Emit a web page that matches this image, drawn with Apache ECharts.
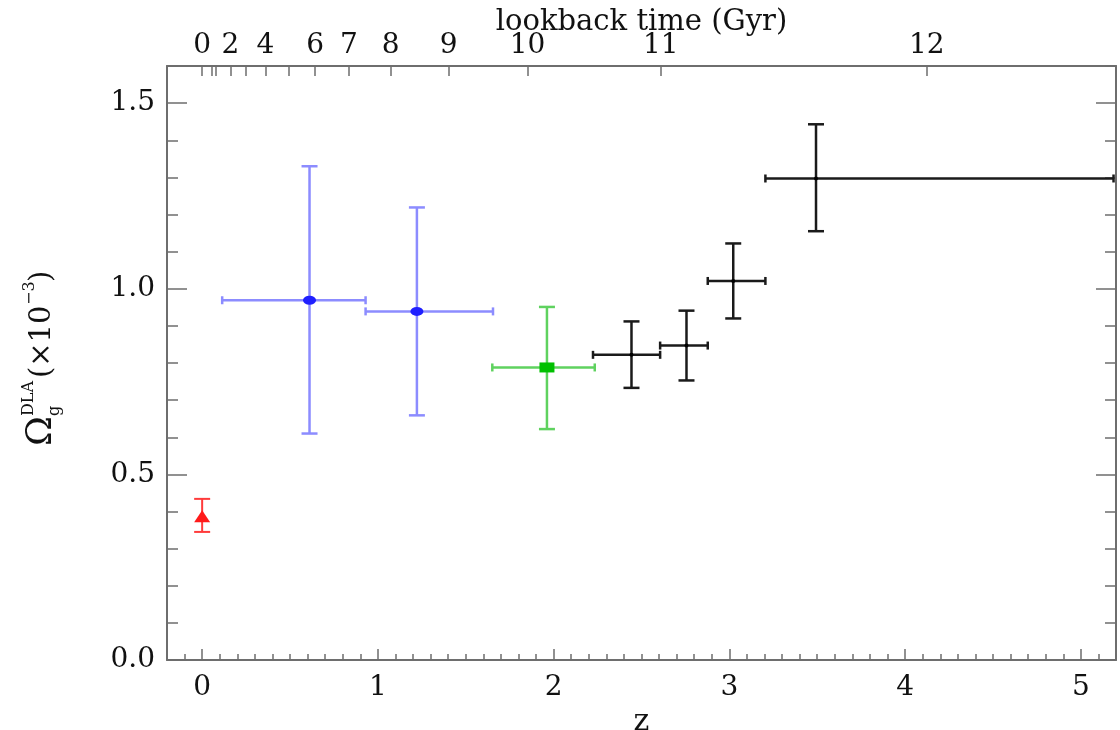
<!DOCTYPE html>
<html>
<head>
<meta charset="utf-8">
<title>Omega_g DLA vs z</title>
<script src="https://cdn.jsdelivr.net/npm/echarts@6/dist/echarts.min.js"></script>
<style>
  html, body { margin: 0; padding: 0; background: #fff; }
  #chart { width: 1120px; height: 730px; }
</style>
</head>
<body>
<div id="chart"></div>
<script>
// values, Omega_g in units of 1e-3
const redZ = [0.0]
const redOmega = [0.387]
const redOmegaLo = [0.345]
const redOmegaHi = [0.434]

const blueZ = [0.611, 1.222]
const blueZLo = [0.114, 0.930]
const blueZHi = [0.930, 1.655]
const blueOmega = [0.969, 0.939]
const blueOmegaLo = [0.610, 0.659]
const blueOmegaHi = [1.330, 1.219]

const greenZ = [1.962]
const greenZLo = [1.651]
const greenZHi = [2.234]
const greenOmega = [0.788]
const greenOmegaLo = [0.622]
const greenOmegaHi = [0.951]

const blackZ = [2.443, 2.756, 3.022, 3.493]
const blackZLo = [2.224, 2.606, 2.877, 3.205]
const blackZHi = [2.606, 2.877, 3.205, 5.186]
const blackOmega = [0.822, 0.847, 1.021, 1.297]
const blackOmegaLo = [0.733, 0.753, 0.920, 1.155]
const blackOmegaHi = [0.912, 0.941, 1.122, 1.443]

// axis ticks
const zTicks = [0, 1, 2, 3, 4, 5]
const omegaTicks = [0, 0.5, 1.0, 1.5]
// top axis: redshift of each lookback time tick
const lookbackTickZ = [0, 0.055, 0.076, 0.161, 0.25, 0.36, 0.493, 0.643, 0.835, 1.072, 1.403, 1.851, 2.61, 4.123]
const lookbackLabelZ = [0, 0.161, 0.36, 0.643, 0.835, 1.072, 1.403, 1.851, 2.61, 4.123]
const lookbackLabels = ['0', '2', '4', '6', '7', '8', '9', '10', '11', '12']

const FONT = 'DejaVu Serif'
const AXIS_COLOR = '#6e6e6e'
const TEXT_COLOR = '#111'

function rows (z, y, zLo, zHi, yLo, yHi) {
  return z.map((v, i) => [v, y[i], zLo ? zLo[i] : v, zHi ? zHi[i] : v, yLo[i], yHi[i]])
}

function errorBars (color, width) {
  return function (params, api) {
    const z = api.value(0)
    const y = api.value(1)
    const top = api.coord([z, api.value(5)])
    const bot = api.coord([z, api.value(4)])
    const left = api.coord([api.value(2), y])
    const right = api.coord([api.value(3), y])
    const style = { stroke: color, lineWidth: width, fill: 'none' }
    const line = (x1, y1, x2, y2) => ({ type: 'line', shape: { x1, y1, x2, y2 }, style })
    const kids = [
      line(top[0], top[1], bot[0], bot[1]),
      line(top[0] - 8, top[1], top[0] + 8, top[1]),
      line(bot[0] - 8, bot[1], bot[0] + 8, bot[1])
    ]
    if (right[0] - left[0] > 1) {
      kids.push(line(left[0], left[1], right[0], right[1]))
      kids.push(line(left[0], left[1] - 4, left[0], left[1] + 4))
      kids.push(line(right[0], right[1] - 4, right[0], right[1] + 4))
    }
    return { type: 'group', children: kids }
  }
}

const redRows = rows(redZ, redOmega, null, null, redOmegaLo, redOmegaHi)
const blueRows = rows(blueZ, blueOmega, blueZLo, blueZHi, blueOmegaLo, blueOmegaHi)
const greenRows = rows(greenZ, greenOmega, greenZLo, greenZHi, greenOmegaLo, greenOmegaHi)
const blackRows = rows(blackZ, blackOmega, blackZLo, blackZHi, blackOmegaLo, blackOmegaHi)

const labelStyle = { fontFamily: FONT, fontSize: 28, color: TEXT_COLOR }
const lineStyle = { color: AXIS_COLOR, width: 2 }
const tickStyle = { color: AXIS_COLOR, width: 1.5 }

function customSeries (data, color, width) {
  return { type: 'custom', renderItem: errorBars(color, width), data, z: 2, silent: true }
}
function markSeries (data, symbol, size, color) {
  return {
    type: 'scatter',
    data: data.map(r => [r[0], r[1]]),
    symbol,
    symbolSize: size,
    itemStyle: { color, opacity: 1 },
    z: 3,
    silent: true
  }
}

const ySup = { fontFamily: FONT, fontSize: 16 }

const option = {
  animation: false,
  backgroundColor: '#fff',
  grid: { left: 167, right: 4, top: 66, bottom: 70, outerBoundsMode: 'none' },
  xAxis: [
    {
      type: 'value', position: 'bottom', min: -0.2, max: 5.2,
      name: 'z', nameLocation: 'middle', nameGap: 46,
      nameTextStyle: { fontFamily: FONT, fontSize: 30, color: TEXT_COLOR },
      axisLine: { onZero: false, lineStyle },
      axisTick: { inside: true, length: 11, customValues: zTicks, lineStyle: tickStyle },
      axisLabel: Object.assign({ customValues: zTicks, margin: 14 }, labelStyle),
      splitLine: { show: false }
    },
    {
      type: 'value', position: 'bottom', min: -0.2, max: 5.2, interval: 0.1,
      axisLine: { show: false, onZero: false },
      axisTick: { inside: true, length: 6, lineStyle: tickStyle },
      axisLabel: { show: false },
      splitLine: { show: false }
    },
    {
      type: 'value', position: 'top', min: -0.2, max: 5.2,
      name: 'lookback time (Gyr)', nameLocation: 'middle', nameGap: 29, nameMoveOverlap: false,
      nameTextStyle: { fontFamily: FONT, fontSize: 29, color: TEXT_COLOR },
      axisLine: { onZero: false, lineStyle },
      axisTick: { inside: true, length: 10, customValues: lookbackTickZ, lineStyle: tickStyle },
      axisLabel: Object.assign({
        customValues: lookbackLabelZ,
        margin: 6,
        formatter: function (v) {
          let best = 0
          lookbackLabelZ.forEach((z, i) => {
            if (Math.abs(z - v) < Math.abs(lookbackLabelZ[best] - v)) best = i
          })
          return lookbackLabels[best]
        }
      }, labelStyle),
      splitLine: { show: false }
    }
  ],
  yAxis: [
    {
      type: 'value', position: 'left', min: 0, max: 1.6,
      axisLine: { onZero: false, lineStyle },
      axisTick: { inside: true, length: 20, customValues: omegaTicks, lineStyle: tickStyle },
      axisLabel: Object.assign({ customValues: omegaTicks, margin: 12, formatter: v => v.toFixed(1) }, labelStyle),
      splitLine: { show: false }
    },
    {
      type: 'value', position: 'left', min: 0, max: 1.6, interval: 0.1,
      axisLine: { show: false, onZero: false },
      axisTick: { inside: true, length: 11, lineStyle: tickStyle },
      axisLabel: { show: false },
      splitLine: { show: false }
    },
    {
      type: 'value', position: 'right', min: 0, max: 1.6,
      axisLine: { onZero: false, lineStyle },
      axisTick: { inside: true, length: 20, customValues: omegaTicks, lineStyle: tickStyle },
      axisLabel: { show: false },
      splitLine: { show: false }
    },
    {
      type: 'value', position: 'right', min: 0, max: 1.6, interval: 0.1,
      axisLine: { show: false, onZero: false },
      axisTick: { inside: true, length: 11, lineStyle: tickStyle },
      axisLabel: { show: false },
      splitLine: { show: false }
    }
  ],
  graphic: [
    {
      type: 'group',
      x: 42,
      y: 360,
      rotation: Math.PI / 2,
      children: [
        { type: 'text', x: -86, y: 0, style: { text: 'Ω', fontFamily: FONT, fontSize: 36, fill: TEXT_COLOR, verticalAlign: 'middle' } },
        { type: 'text', x: -56, y: -13, style: Object.assign({ text: 'DLA', fill: TEXT_COLOR, verticalAlign: 'middle' }, ySup) },
        { type: 'text', x: -56, y: 13, style: Object.assign({ text: 'g', fill: TEXT_COLOR, verticalAlign: 'middle' }, ySup) },
        { type: 'text', x: -18, y: 0, style: { text: '(×10', fontFamily: FONT, fontSize: 29, fill: TEXT_COLOR, verticalAlign: 'middle' } },
        { type: 'text', x: 55, y: -12, style: Object.assign({ text: '−3', fill: TEXT_COLOR, verticalAlign: 'middle' }, ySup) },
        { type: 'text', x: 78, y: 0, style: { text: ')', fontFamily: FONT, fontSize: 29, fill: TEXT_COLOR, verticalAlign: 'middle' } }
      ]
    }
  ],
  series: [
    customSeries(redRows, '#ff3b3b', 2),
    customSeries(blueRows, '#8c8cff', 2.5),
    customSeries(greenRows, '#5fd25f', 2.5),
    customSeries(blackRows, '#1a1a1a', 2.5),
    markSeries(redRows, 'triangle', [16, 12], '#ff1a1a'),
    markSeries(blueRows, 'circle', [13, 9], '#1f1fff'),
    markSeries(greenRows, 'rect', [15, 10], '#00c000'),
    markSeries(blackRows, 'circle', 4, '#000')
  ]
}

const myChart = echarts.init(document.getElementById('chart'))
myChart.setOption(option)
</script>
</body>
</html>
